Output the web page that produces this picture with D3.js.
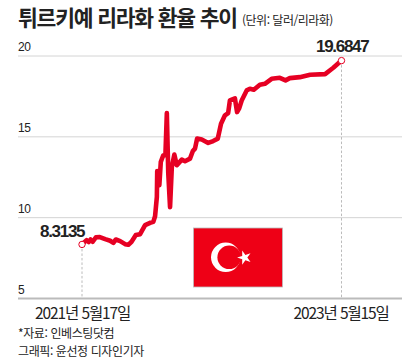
<!DOCTYPE html>
<html lang="ko">
<head>
<meta charset="utf-8">
<script src="https://d3js.org/d3.v7.min.js"></script>
<style>
  html, body { margin: 0; padding: 0; background: #fff; }
  svg { display: block; }
  text { font-family: "Noto Sans CJK KR", "Noto Sans", sans-serif; fill: #222; }
</style>
</head>
<body>
<div id="container"></div>
<script>
// 2021-05-17 기준 경과일
const days = [0, 13, 19, 24, 30, 39, 50, 65, 79, 88, 95, 107, 121, 130, 139, 151, 163, 177, 191, 200,
  205, 210, 211, 217, 221, 228, 234, 238, 242, 247, 252, 259, 266, 280, 289, 303, 311, 317, 323, 336,
  354, 368, 381, 390, 401, 410, 415, 429, 435, 441, 448, 462, 471, 482, 499, 513, 532, 555, 571, 583,
  611, 640, 682, 705, 728];
const rates = [8.3135, 8.58, 8.46, 8.62, 8.48, 8.75, 8.77, 8.64, 8.54, 8.41, 8.62, 8.52, 8.33, 8.29, 8.48, 8.89, 8.95, 9.51, 9.65, 9.71,
  10.06, 11.25, 12.86, 11.98, 13.41, 13.83, 13.83, 16.44, 12.72, 10.62, 13.10, 13.87, 13.21, 13.56, 13.46, 13.62, 14.09, 14.24, 14.86, 14.80,
  14.59, 14.71, 14.86, 15.78, 16.30, 16.44, 17.22, 17.35, 16.50, 16.73, 17.22, 17.84, 17.94, 17.88, 18.19, 18.25, 18.56, 18.62, 18.46, 18.60,
  18.66, 18.81, 18.85, 19.24, 19.6847];
const yTicks = [5, 10, 15, 20];
const startLabel = "2021년 5월17일";
const endLabel = "2023년 5월15일";
const startValue = "8.3135";
const endValue = "19.6847";

const width = 420, height = 364;
const red = "#e60023";

const svg = d3.select("#container").append("svg")
  .attr("width", width)
  .attr("height", height)
  .attr("viewBox", [0, 0, width, height]);

const x = d3.scaleLinear().domain([0, 728]).range([82, 341.5]);
const y = d3.scaleLinear().domain([5, 20]).range([298, 55.5]);

// 제목
svg.append("text").attr("x", 18).attr("y", 26)
  .attr("font-size", 21.5).attr("font-weight", 700).attr("letter-spacing", -1.2)
  .text("튀르키예 리라화 환율 추이");
svg.append("text").attr("x", 242).attr("y", 25)
  .attr("font-size", 12).attr("letter-spacing", -0.5)
  .text("(단위: 달러/리라화)");

// 눈금선
const yAxis = d3.axisLeft(y).tickValues(yTicks).tickSize(-384).tickPadding(0);
svg.append("g")
  .attr("transform", "translate(18,0)")
  .call(yAxis)
  .call((g) => g.select(".domain").remove())
  .call((g) => g.selectAll(".tick line")
    .attr("stroke", (d) => (d === 5 ? "#bbb" : "#d4d4d4"))
    .attr("stroke-width", (d) => (d === 5 ? 2 : 1)))
  .call((g) => g.selectAll(".tick text")
    .attr("x", 0).attr("dy", -5)
    .attr("text-anchor", "start")
    .attr("font-size", 12)
    .attr("letter-spacing", -0.3)
    .style("font-family", "'Liberation Sans', sans-serif")
    .style("fill", "#222"));

// 시작/끝 점선
svg.append("g")
  .selectAll("line")
  .data([0, days.length - 1])
  .join("line")
  .attr("x1", (i) => x(days[i]))
  .attr("x2", (i) => x(days[i]))
  .attr("y1", (i) => y(rates[i]))
  .attr("y2", y(5))
  .attr("stroke", "#aaa")
  .attr("stroke-width", 0.8)
  .attr("stroke-dasharray", "2.5,2");

// 국기
const flag = svg.append("g");
flag.append("rect").attr("x", 193.5).attr("y", 228).attr("width", 89).attr("height", 59)
  .attr("fill", "#ee0016").attr("stroke", "#bbb").attr("stroke-width", 0.8);
flag.append("circle").attr("cx", 225.7).attr("cy", 257.3).attr("r", 14.7).attr("fill", "#fff");
flag.append("circle").attr("cx", 229.2).attr("cy", 257.3).attr("r", 11.8).attr("fill", "#ee0016");
flag.append("path")
  .attr("d", d3.symbol(d3.symbolStar, 62))
  .attr("transform", "translate(244.5,257.6) rotate(-90)")
  .attr("fill", "#fff");

// 환율 선
const line = d3.line()
  .x((i) => x(days[i]))
  .y((i) => y(rates[i]));
svg.append("path")
  .attr("fill", "none")
  .attr("stroke", red)
  .attr("stroke-width", 4.6)
  .attr("stroke-linejoin", "round")
  .attr("d", line(d3.range(days.length)));

// 끝점
svg.append("g")
  .selectAll("circle")
  .data([0, days.length - 1])
  .join("circle")
  .attr("cx", (i) => x(days[i]))
  .attr("cy", (i) => y(rates[i]))
  .attr("r", 3.2)
  .attr("fill", "#fff")
  .attr("stroke", red)
  .attr("stroke-width", 1);

// 값 라벨
const valueFont = "'Liberation Sans', sans-serif";
svg.append("text").attr("x", 40).attr("y", 236.7)
  .attr("font-size", 17).attr("font-weight", 700).attr("letter-spacing", -1.3)
  .style("font-family", valueFont).text(startValue);
svg.append("text").attr("x", 316).attr("y", 51.7)
  .attr("font-size", 17).attr("font-weight", 700).attr("letter-spacing", -1.3)
  .style("font-family", valueFont).text(endValue);

// 날짜 라벨
svg.append("text").attr("x", 35).attr("y", 319.3)
  .attr("font-size", 15.5).attr("letter-spacing", -1.1).text(startLabel);
svg.append("text").attr("x", 293.5).attr("y", 319.3)
  .attr("font-size", 15.5).attr("letter-spacing", -1.1).text(endLabel);

// 출처
svg.append("text").attr("x", 18).attr("y", 338.3)
  .attr("font-size", 12).attr("letter-spacing", -0.4).text("*자료: 인베스팅닷컴");
svg.append("text").attr("x", 18).attr("y", 356)
  .attr("font-size", 12).attr("letter-spacing", -0.4).text("그래픽: 윤선정 디자인기자");
</script>
</body>
</html>
